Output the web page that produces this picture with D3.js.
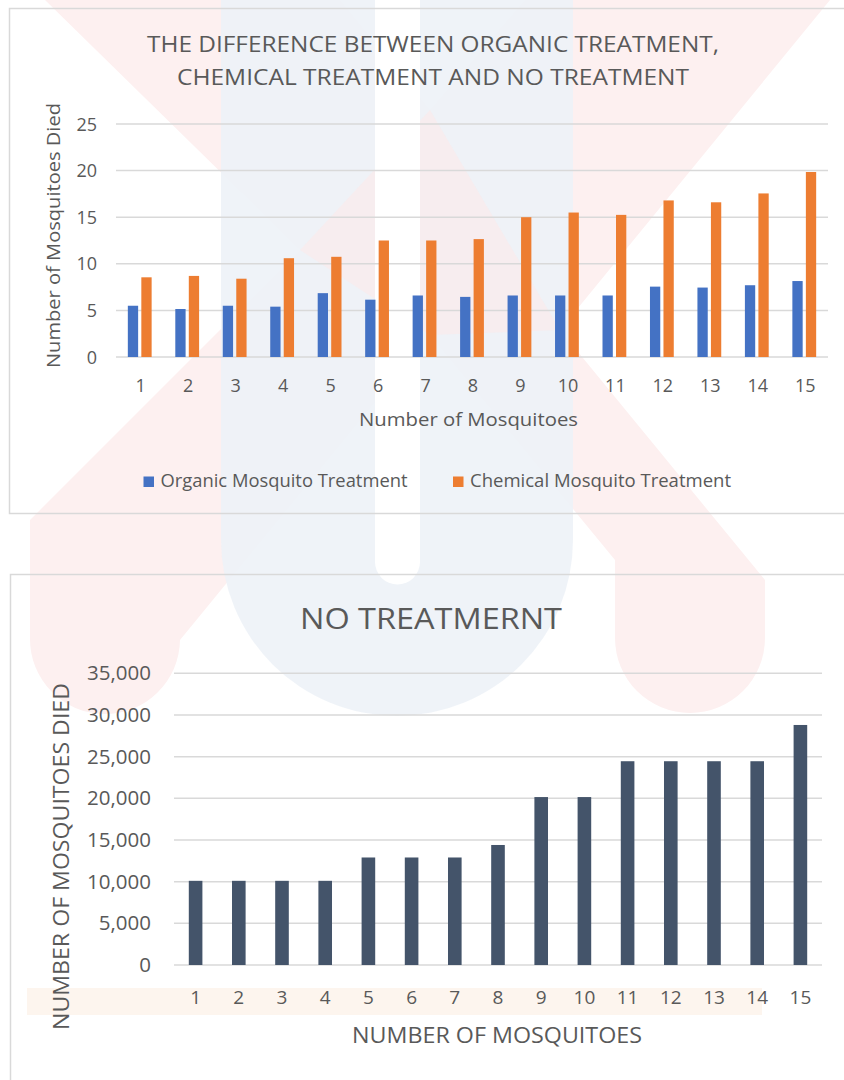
<!DOCTYPE html>
<html>
<head>
<meta charset="utf-8">
<script src="https://cdn.jsdelivr.net/npm/d3@7"></script>
<style>
  html, body { margin: 0; padding: 0; background: #ffffff; }
  svg { display: block; }
  text { font-family: "Open Sans", "Noto Sans", sans-serif; fill: #595959; }
</style>
</head>
<body>
<svg id="chart" width="844" height="1080"></svg>
<script>
// ---------------- DATA ----------------
const categories = ["1","2","3","4","5","6","7","8","9","10","11","12","13","14","15"];
const organicValues  = [5.5, 5.15, 5.5, 5.4, 6.85, 6.15, 6.6, 6.45, 6.6, 6.6, 6.6, 7.55, 7.45, 7.7, 8.15];
const chemicalValues = [8.55, 8.7, 8.4, 10.6, 10.75, 12.5, 12.5, 12.65, 15.0, 15.5, 15.25, 16.8, 16.6, 17.55, 19.85];
const noTreatmentValues = [10100, 10100, 10100, 10100, 12900, 12900, 12900, 14400, 20150, 20150, 24450, 24450, 24450, 24450, 28800];
const seriesNames = ["Organic Mosquito Treatment", "Chemical Mosquito Treatment"];
const topTicks = [0, 5, 10, 15, 20, 25];
const bottomTicks = [0, 5000, 10000, 15000, 20000, 25000, 30000, 35000];
const topTitle = ["THE DIFFERENCE BETWEEN ORGANIC TREATMENT,", "CHEMICAL TREATMENT AND NO TREATMENT"];
const bottomTitle = "NO TREATMERNT";

// ---------------- SETUP ----------------
const svg = d3.select("#chart");
const colors = { organic: "#4472C4", chemical: "#ED7D31", none: "#44546A", grid: "#d9d9d9", frame: "#d9d9d9" };

// ---------------- WATERMARK (background shapes) ----------------
const wm = svg.append("g").attr("class", "watermark");
// pink X (single path so overlaps are not darker)
wm.append("path")
  .attr("d",
    "M45,0 L340,0 L430,110 L525,0 L830,0 L560,330 L765,580 L765,638 A75,75 0 0 1 615,638 L615,560 L430,335 L180,640 A75,75 0 0 1 30,638 L30,520 L300,250 Z")
  .attr("fill", "#fdf0f0");
// light blue U
wm.append("path")
  .attr("d", "M221,0 L573,0 L573,540 A176,176 0 0 1 221,540 Z")
  .attr("fill", "#edf2f7").attr("opacity", 0.9);
// pink overlay where X crosses U (upper middle)
wm.append("path")
  .attr("d", "M300,250 L430,110 L560,330 L430,335 Z")
  .attr("fill", "#fbe9ea").attr("opacity", 0.6);
// white stripe inside U
wm.append("path")
  .attr("d", "M375,0 L420,0 L420,562 A22.5,22.5 0 0 1 375,562 Z")
  .attr("fill", "#ffffff");
// faint orange band
wm.append("rect").attr("x", 27).attr("y", 988).attr("width", 735).attr("height", 27)
  .attr("fill", "#fdf5ee");

// ---------------- CHART 1 ----------------
const c1 = svg.append("g").attr("class", "chart1");
c1.append("rect").attr("x", 9.5).attr("y", 8.5).attr("width", 900).attr("height", 505)
  .attr("fill", "none").attr("stroke", colors.frame).attr("stroke-width", 1.5);

const titleLens = [572, 512];
c1.selectAll("text.title").data(topTitle).join("text")
  .attr("class", "title")
  .attr("x", 433).attr("y", (d, i) => 52 + i * 33)
  .attr("text-anchor", "middle")
  .attr("textLength", (d, i) => titleLens[i])
  .attr("lengthAdjust", "spacingAndGlyphs")
  .style("font-size", "22px")
  .text(d => d);

const x1 = d3.scaleBand().domain(categories).range([116, 828]).paddingInner(0).paddingOuter(0);
const y1 = d3.scaleLinear().domain([0, 25]).range([357, 124]);

// gridlines
c1.append("g").selectAll("line").data(topTicks).join("line")
  .attr("x1", 116).attr("x2", 828)
  .attr("y1", d => y1(d)).attr("y2", d => y1(d))
  .attr("stroke", colors.grid).attr("stroke-width", 1.5);

// y tick labels
c1.append("g").selectAll("text").data(topTicks).join("text")
  .attr("x", 97).attr("y", d => y1(d) + 6.5)
  .attr("text-anchor", "end")
  .style("font-size", "18px")
  .text(d => d3.format("d")(d));

// bars
const barW1 = 10.3, gap1 = 3.2;
const groups1 = c1.append("g").selectAll("g").data(categories).join("g")
  .attr("transform", d => `translate(${x1(d) + x1.bandwidth() / 2},0)`);
groups1.append("rect")
  .attr("x", -barW1 - gap1 / 2)
  .attr("width", barW1)
  .attr("y", (d, i) => y1(organicValues[i]))
  .attr("height", (d, i) => y1(0) - y1(organicValues[i]))
  .attr("fill", colors.organic);
groups1.append("rect")
  .attr("x", gap1 / 2)
  .attr("width", barW1)
  .attr("y", (d, i) => y1(chemicalValues[i]))
  .attr("height", (d, i) => y1(0) - y1(chemicalValues[i]))
  .attr("fill", colors.chemical);

// x labels
c1.append("g").selectAll("text").data(categories).join("text")
  .attr("x", d => x1(d) + x1.bandwidth() / 2 + 1)
  .attr("y", 392)
  .attr("text-anchor", "middle")
  .style("font-size", "18px")
  .text(d => d);

// axis titles
c1.append("text").attr("x", 468.5).attr("y", 426).attr("text-anchor", "middle")
  .attr("textLength", 219).attr("lengthAdjust", "spacingAndGlyphs")
  .style("font-size", "18.5px").text("Number of Mosquitoes");
c1.append("text").attr("transform", "translate(60,235.5) rotate(-90)").attr("text-anchor", "middle")
  .attr("textLength", 265).attr("lengthAdjust", "spacingAndGlyphs")
  .style("font-size", "18.5px").text("Number of Mosquitoes Died");

// legend
const legendData = [
  { name: seriesNames[0], color: colors.organic, x: 143.5, len: 247 },
  { name: seriesNames[1], color: colors.chemical, x: 453, len: 261 }
];
const lg = c1.append("g").selectAll("g").data(legendData).join("g")
  .attr("transform", d => `translate(${d.x},0)`);
lg.append("rect").attr("x", 0).attr("y", 476.5).attr("width", 10.5).attr("height", 10.5)
  .attr("fill", d => d.color);
lg.append("text").attr("x", 17).attr("y", 487)
  .attr("textLength", d => d.len).attr("lengthAdjust", "spacingAndGlyphs")
  .style("font-size", "17.5px").text(d => d.name);

// ---------------- CHART 2 ----------------
const c2 = svg.append("g").attr("class", "chart2");
c2.append("rect").attr("x", 10.5).attr("y", 574.5).attr("width", 900).attr("height", 600)
  .attr("fill", "none").attr("stroke", colors.frame).attr("stroke-width", 1.5);

c2.append("text").attr("x", 431).attr("y", 629).attr("text-anchor", "middle")
  .attr("textLength", 262).attr("lengthAdjust", "spacingAndGlyphs")
  .style("font-size", "29px").text(bottomTitle);

const x2 = d3.scaleBand().domain(categories).range([174, 822]).paddingInner(0.685).paddingOuter(0.3425);
const y2 = d3.scaleLinear().domain([0, 35000]).range([965, 673.3]);

c2.append("g").selectAll("line").data(bottomTicks).join("line")
  .attr("x1", 174).attr("x2", 822)
  .attr("y1", d => y2(d)).attr("y2", d => y2(d))
  .attr("stroke", colors.grid).attr("stroke-width", 1.5);

c2.append("g").selectAll("text").data(bottomTicks).join("text")
  .attr("x", 151).attr("y", d => y2(d) + 7)
  .attr("text-anchor", "end")
  .style("font-size", "20.5px")
  .text(d => d3.format(",")(d));

c2.append("g").selectAll("rect").data(categories).join("rect")
  .attr("x", d => x2(d))
  .attr("width", x2.bandwidth())
  .attr("y", (d, i) => y2(noTreatmentValues[i]))
  .attr("height", (d, i) => y2(0) - y2(noTreatmentValues[i]))
  .attr("fill", colors.none);

c2.append("g").selectAll("text").data(categories).join("text")
  .attr("x", d => x2(d) + x2.bandwidth() / 2)
  .attr("y", 1004)
  .attr("text-anchor", "middle")
  .style("font-size", "19px")
  .text(d => d);

c2.append("text").attr("x", 497).attr("y", 1043).attr("text-anchor", "middle")
  .attr("textLength", 290).attr("lengthAdjust", "spacingAndGlyphs")
  .style("font-size", "21px").text("NUMBER OF MOSQUITOES");
c2.append("text").attr("transform", "translate(69,856.5) rotate(-90)").attr("text-anchor", "middle")
  .attr("textLength", 347).attr("lengthAdjust", "spacingAndGlyphs")
  .style("font-size", "21px").text("NUMBER OF MOSQUITOES DIED");
</script>
</body>
</html>
